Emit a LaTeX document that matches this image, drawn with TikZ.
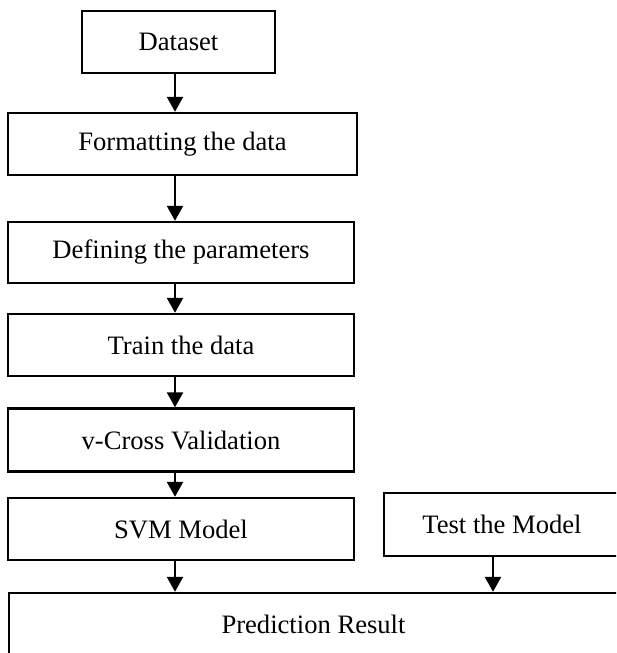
\documentclass[tikz,border=0pt]{standalone}
\usepackage{fontspec}
\setmainfont{Liberation Serif}
\usetikzlibrary{arrows.meta}
\tikzset{
  stepbox/.style={draw=black, line width=2.4pt, rectangle, inner sep=0pt,
    font=\fontsize{26.6}{32}\selectfont, text=black},
  flow/.style={draw=black, line width=2.4pt, -{Triangle[width=16pt,length=15pt]}}
}
\begin{document}
\begin{tikzpicture}[x=1pt,y=-1pt]
\clip (0,0) rectangle (616,653);
\fill[white] (0,0) rectangle (616,653);
\coordinate (colx) at (175,0);
\coordinate (testx) at (493,0);
\node[stepbox, minimum width=193pt, minimum height=62pt] (ds) at (178.5,42) {Dataset};
\node[stepbox, minimum width=349pt, minimum height=62pt] (fmt) at (182.5,144) {Formatting the data};
\node[stepbox, minimum width=346pt, minimum height=61pt] (def) at (181,252.5) {Defining the parameters};
\node[stepbox, minimum width=346pt, minimum height=62pt] (train) at (181,345) {Train the data};
\node[stepbox, minimum width=346pt, minimum height=63pt] (cv) at (181,440) {v-Cross Validation};
\node[stepbox, minimum width=346pt, minimum height=62pt] (svm) at (181,529) {SVM Model};
\node[stepbox, minimum width=236pt, minimum height=63pt] (test) at (502,524.5) {Test the Model};
\node[stepbox, minimum width=609pt, minimum height=62pt] (pred) at (313.5,624) {Prediction Result};
\draw[flow] (ds.south -| colx) -- (fmt.north -| colx);
\draw[flow] (fmt.south -| colx) -- (def.north -| colx);
\draw[flow] (def.south -| colx) -- (train.north -| colx);
\draw[flow] (train.south -| colx) -- (cv.north -| colx);
\draw[flow] (cv.south -| colx) -- (svm.north -| colx);
\draw[flow] (svm.south -| colx) -- (pred.north -| colx);
\draw[flow] (test.south -| testx) -- (pred.north -| testx);
\end{tikzpicture}
\end{document}
